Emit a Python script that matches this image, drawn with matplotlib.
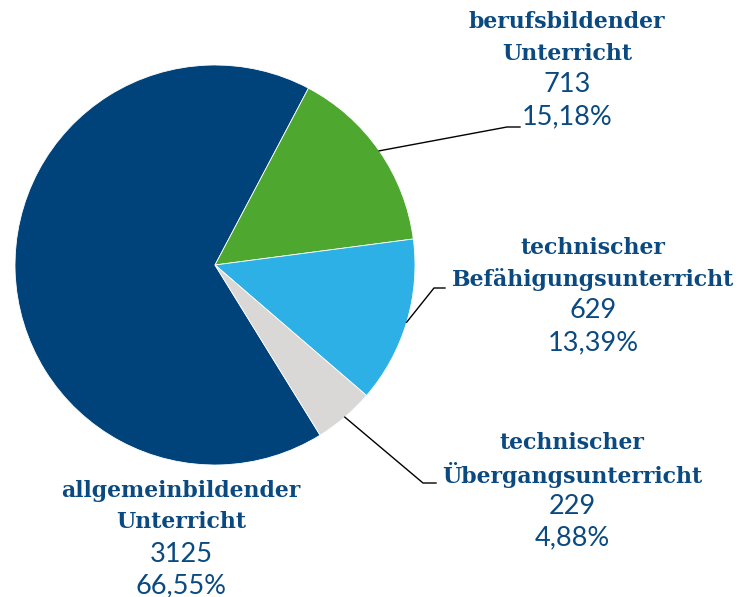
import numpy as np
import matplotlib.pyplot as plt

# data
names = ["allgemeinbildender\nUnterricht", "berufsbildender\nUnterricht",
         "technischer\nBefähigungsunterricht", "technischer\nÜbergangsunterricht"]
counts = [3125, 713, 629, 229]
shares = ["66,55%", "15,18%", "13,39%", "4,88%"]
colors = ["#00427a", "#4ea72e", "#2db0e6", "#d9d8d6"]

text_color = "#0b4a80"
W, H = 740, 597
cx, cy, rad = 215, H - 265, 200

# label centres (x, y of first line) and leader elbows, in pixels from top-left
label_pos = [(181, 491), (567, 22), (593, 248), (572, 443)]
elbows = [None, ((507, 127), (520, 127)), ((434, 288), (445, 288)), ((423, 483), (436, 483))]

fig = plt.figure(figsize=(W / 100, H / 100), dpi=100)
ax = fig.add_axes([0, 0, 1, 1])
wedges, _ = ax.pie(counts, colors=colors, startangle=301.7, counterclock=False,
                   radius=rad, center=(cx, cy),
                   wedgeprops=dict(edgecolor="white", linewidth=0.6))
ax.set_xlim(0, W)
ax.set_ylim(0, H)
ax.set_aspect("equal")
ax.axis("off")

for i, w in enumerate(wedges):
    lx, ly = label_pos[i]
    n1, n2 = names[i].split("\n")
    lines = [(n1, "bold"), (n2, "bold"), (str(counts[i]), "normal"), (shares[i], "normal")]
    for k, (s, wt) in enumerate(lines):
        if wt == "bold":
            ax.text(lx, H - (ly + k * 31.5), s, ha="center", va="center",
                    fontsize=15.8, fontweight="bold", family="DejaVu Serif",
                    color=text_color)
        else:
            ax.text(lx, H - (ly + k * 31.5), s, ha="center", va="center",
                    fontsize=19.5, family="Lato", color=text_color)
    if elbows[i] is not None:
        ang = np.deg2rad((w.theta1 + w.theta2) / 2)
        x0, y0 = cx + rad * np.cos(ang), cy + rad * np.sin(ang)
        (ex, ey), (fx, fy) = elbows[i]
        ax.plot([x0, ex, fx], [y0, H - ey, H - fy], color="black", lw=1,
                solid_joinstyle="miter")

fig.savefig("out.png", dpi=100)
